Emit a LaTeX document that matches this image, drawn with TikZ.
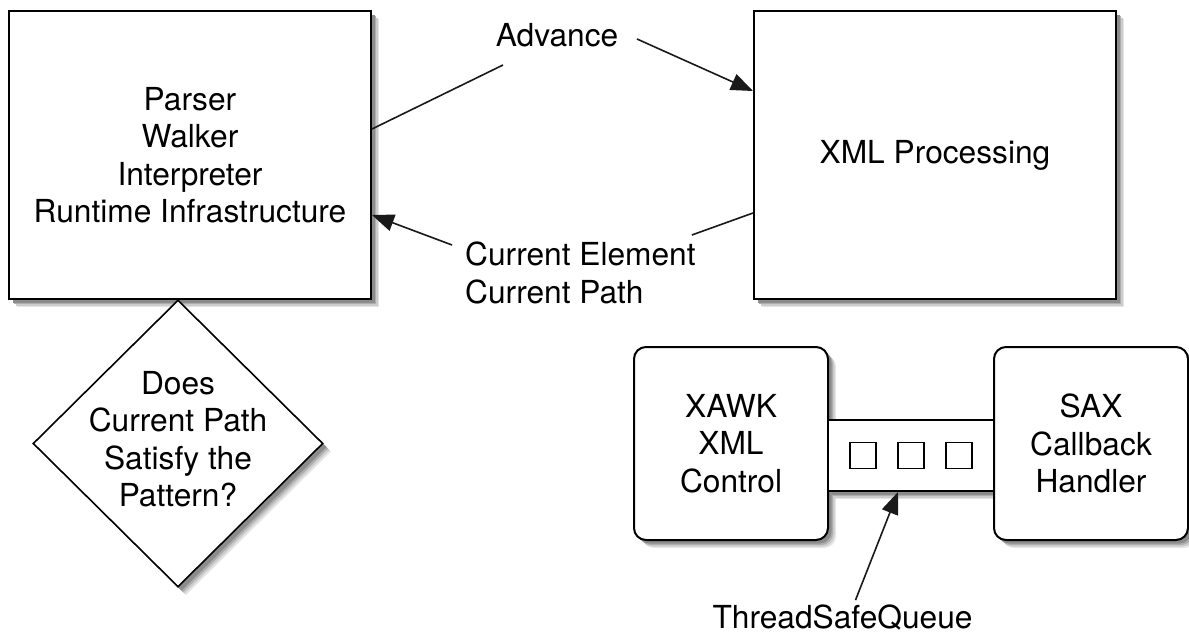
\documentclass[tikz,border=0pt]{standalone}
\usepackage{fontspec}
\setmainfont{TeX Gyre Heros}
\usetikzlibrary{arrows.meta,shapes.geometric}

\tikzset{
  lbl/.style={inner sep=0pt, font=\fontsize{31.7}{37.5}\selectfont},
  plainbox/.style={lbl, draw=black, line width=2pt, fill=white, align=center},
  roundbox/.style={plainbox, rounded corners=12pt},
  slot/.style={draw=black, line width=1.6pt, fill=white, minimum size=26pt,
      inner sep=0pt},
  conn/.style={draw=black!90, line width=1.6pt},
  arr/.style={conn, -{Triangle[length=22pt, width=17pt]}}
}

\begin{document}
\begin{tikzpicture}[x=1pt, y=-1pt]
\useasboundingbox (0,0) rectangle (1189,635);

% soft shadows (offset right and down), stacked from the faint rim to the dark core
\foreach \d/\c in {8/10, 6.5/20, 5/32, 3.5/45} {
  \begin{scope}[shift={(\d,\d)}]
    \fill[black!\c] (9,11) rectangle (371,299);
    \fill[black!\c] (754,11) rectangle (1116,299);
    \fill[black!\c] (178,300) -- (323,443.5) -- (178,587) -- (33,443.5) -- cycle;
    \fill[black!\c, rounded corners=12pt] (634,347) rectangle (828,540);
    \fill[black!\c] (828,420) rectangle (994,491);
    \fill[black!\c, rounded corners=12pt] (994,347) rectangle (1188,540);
  \end{scope}
}

% main processing blocks
\node[plainbox, minimum width=362pt, minimum height=288pt] (L) at (190,155)
  {Parser\\Walker\\Interpreter\\Runtime Infrastructure};
\node[plainbox, minimum width=362pt, minimum height=288pt] (R) at (935,155)
  {XML Processing};

% decision
\node[diamond, draw=black, line width=1.6pt, fill=white,
      minimum width=290pt, minimum height=287pt, inner sep=0pt] (D) at (178,443.5) {};
\node[lbl, align=center] (Dt) at (178,439)
  {Does\\Current Path\\Satisfy the\\Pattern?};

% producer, queue and consumer
\node[roundbox, minimum width=194pt, minimum height=193pt] (X) at (731,443.5)
  {XAWK\\XML\\Control};
\node[draw=black, line width=2pt, fill=white,
      minimum width=166pt, minimum height=71pt, inner sep=0pt] (Q) at (911,455.5) {};
\node[roundbox, minimum width=194pt, minimum height=193pt] (S) at (1091,443.5)
  {SAX\\Callback\\Handler};
\node[slot] (q1) at (863,455.5) {};
\node[slot] (q2) at (911,455.5) {};
\node[slot] (q3) at (959,455.5) {};

% labels
\node[lbl] (adv) at (557,35) {Advance};
\node[lbl, align=left, anchor=north west] (cur) at (465,242)
  {Current Element\\Current Path};
\node[lbl] (tsq) at (842.5,618) {ThreadSafeQueue};

% connectors
\draw[conn] ([yshift=26pt]L.east) -- ([shift={(-54pt,-30pt)}]adv.center);
\draw[arr] ([shift={(80pt,-4pt)}]adv.center) -- ([yshift=64pt]R.west);
\draw[conn] ([yshift=-58pt]R.west) -- ([shift={(-4pt,7pt)}]cur.north east);
\draw[arr] ([shift={(-13pt,-3pt)}]cur.north west) -- ([yshift=-60pt]L.east);
\draw[arr] ([shift={(13pt,5pt)}]tsq.north) -- ([xshift=-13pt]Q.south);
\end{tikzpicture}
\end{document}
